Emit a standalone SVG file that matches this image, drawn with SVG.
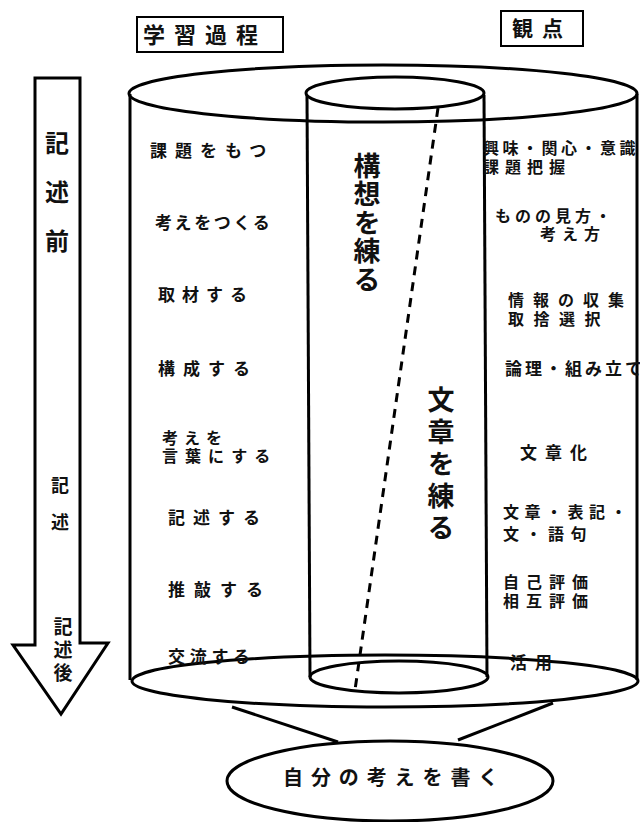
<svg xmlns="http://www.w3.org/2000/svg" width="640" height="822" viewBox="0 0 640 822">
<style>
.ln{fill:none;stroke:#000;stroke-width:3}
.t{font-family:"Noto Sans CJK JP","Noto Sans CJK SC",sans-serif;font-weight:700;fill:#111}
.l{font-size:17px}
.s{font-size:16px}
.v{font-size:27px;writing-mode:vertical-rl}
</style>
<rect width="640" height="822" fill="#fff"/>
<g id="header-process">
<rect x="137" y="17" width="146" height="35" fill="none" stroke="#000" stroke-width="2"/>
<text class="t" x="143" y="43" font-size="22" letter-spacing="9">学習過程</text>
</g>
<g id="header-viewpoint">
<rect x="501" y="11" width="82" height="35" fill="none" stroke="#000" stroke-width="2"/>
<text class="t" x="512" y="36" font-size="21" letter-spacing="9">観点</text>
</g>
<g id="arrow">
<polygon points="35,78 80,78 80,643 108,643 61,714 13,645 35,645" fill="#fff" stroke="#000" stroke-width="3" stroke-linejoin="miter"/>
<text class="t" x="57" y="131" font-size="24" style="writing-mode:vertical-rl" letter-spacing="25">記述前</text>
<text class="t" x="60" y="476" font-size="18" style="writing-mode:vertical-rl" letter-spacing="19">記述</text>
<text class="t" x="63" y="617" font-size="19" style="writing-mode:vertical-rl" letter-spacing="4">記述後</text>
</g>
<g id="outer-cylinder">
<ellipse class="ln" cx="383" cy="93.5" rx="254" ry="28.5"/>
<line class="ln" x1="130" y1="94" x2="130" y2="680"/>
<line class="ln" x1="637" y1="94" x2="637" y2="680"/>
<ellipse class="ln" cx="385" cy="681" rx="253" ry="26"/>
</g>
<g id="inner-cylinder">
<ellipse class="ln" cx="395" cy="93" rx="89" ry="16"/>
<line class="ln" x1="307" y1="95" x2="310" y2="677"/>
<line class="ln" x1="484" y1="95" x2="487" y2="677"/>
<ellipse class="ln" cx="399" cy="677" rx="89" ry="16"/>
<text class="t v" x="367" y="152" letter-spacing="1.5">構想を練る</text>
<text class="t v" x="441" y="386" letter-spacing="5">文章を練る</text>
</g>
<g id="process-labels" class="t l">
<text x="150" y="157" letter-spacing="8">課題をもつ</text>
<text x="155" y="229" letter-spacing="2.6">考えをつくる</text>
<text x="158" y="301" letter-spacing="7">取材する</text>
<text x="158" y="375" letter-spacing="8">構成する</text>
<text class="s" x="162" y="444" letter-spacing="6">考えを</text>
<text class="s" x="162" y="462" letter-spacing="7">言葉にする</text>
<text x="168" y="524" letter-spacing="8">記述する</text>
<text x="168" y="596" letter-spacing="9">推敲する</text>
<text x="168" y="663" letter-spacing="4.7">交流する</text>
</g>
<g id="viewpoint-labels" class="t l">
<text class="s" x="483" y="154" letter-spacing="3.5">興味・関心・意識</text>
<text class="s" x="483" y="173" letter-spacing="6">課題把握</text>
<text class="s" x="495" y="222" letter-spacing="4">ものの見方・</text>
<text class="s" x="540" y="240" letter-spacing="6">考え方</text>
<text class="s" x="508" y="306" letter-spacing="9">情報の収集</text>
<text class="s" x="508" y="325" letter-spacing="9.5">取捨選択</text>
<text x="505" y="375" letter-spacing="3">論理・組み立て</text>
<text x="520" y="459" letter-spacing="8">文章化</text>
<text class="s" x="503" y="518" letter-spacing="5.5">文章・表記・</text>
<text class="s" x="503" y="540" letter-spacing="6.5">文・語句</text>
<text class="s" x="503" y="588" letter-spacing="7">自己評価</text>
<text class="s" x="503" y="607" letter-spacing="7">相互評価</text>
<text x="510" y="669" letter-spacing="8">活用</text>
</g>
<g id="connectors">
<line class="ln" x1="438" y1="108" x2="355" y2="690" stroke-width="3.5" stroke-dasharray="9 7"/>
<line class="ln" x1="232" y1="707" x2="338" y2="742" stroke-width="2.5"/>
<line class="ln" x1="553" y1="703" x2="458" y2="740" stroke-width="2.5"/>
</g>
<g id="result">
<ellipse class="ln" cx="390" cy="781" rx="163" ry="40"/>
<text class="t" x="283" y="785" font-size="20" letter-spacing="7.9">自分の考えを書く</text>
</g>
</svg>
